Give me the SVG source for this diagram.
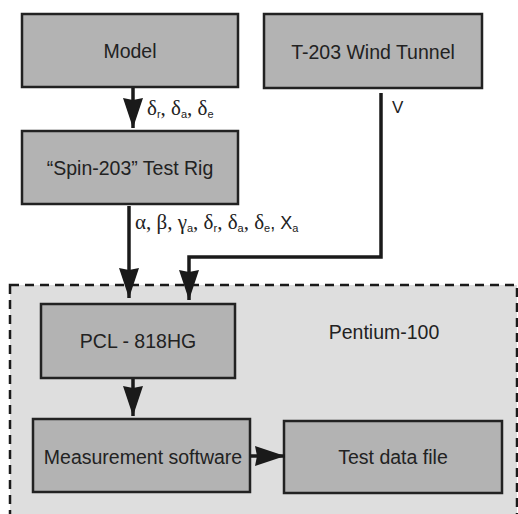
<svg xmlns="http://www.w3.org/2000/svg" width="518" height="514" viewBox="0 0 518 514">
<style>
.box{fill:#b3b3b3;stroke:#222;stroke-width:2.5}
.t{font-family:"Liberation Sans",Arial,sans-serif;font-size:19.5px;fill:#222;text-anchor:middle}
.g{font-family:"Liberation Serif","Times New Roman",serif;font-size:21px;fill:#222}
.s{font-family:"Liberation Sans",Arial,sans-serif;font-size:11px}
.c{fill:none;stroke:#1a1a1a;stroke-width:3.5}
</style>
<defs>
<marker id="a" viewBox="0 0 30 20" refX="30" refY="10" markerWidth="30" markerHeight="20" markerUnits="userSpaceOnUse" orient="auto">
<path d="M0,0 L30,10 L0,20 L2,10 Z" fill="#1a1a1a"/>
</marker>
</defs>
<g id="pentium">
<rect x="10" y="285" width="507" height="240" fill="#dedede" stroke="#1a1a1a" stroke-width="2.5" stroke-dasharray="9,6"/>
<text class="t" x="384" y="339">Pentium-100</text>
</g>
<g id="model">
<rect class="box" x="22" y="14" width="216" height="73"/>
<text class="t" x="130" y="58">Model</text>
</g>
<g id="spin">
<rect class="box" x="22" y="131" width="216" height="73"/>
<text class="t" x="130" y="175">“Spin-203” Test Rig</text>
</g>
<g id="tunnel">
<rect class="box" x="264" y="14" width="218" height="74"/>
<text class="t" x="373" y="59">T-203 Wind Tunnel</text>
</g>
<g id="pcl">
<rect class="box" x="41" y="304" width="194" height="74"/>
<text class="t" x="138" y="348">PCL - 818HG</text>
</g>
<g id="measure">
<rect class="box" x="33" y="419" width="217" height="73"/>
<text class="t" x="143" y="464">Measurement software</text>
</g>
<g id="testdata">
<rect class="box" x="284" y="421" width="218" height="72"/>
<text class="t" x="393" y="464">Test data file</text>
</g>
<g id="connectors">
<path class="c" d="M133,88 V128" marker-end="url(#a)"/>
<path class="c" d="M129,206 V298" marker-end="url(#a)"/>
<path class="c" d="M381,93 V257 H189 V300" marker-end="url(#a)"/>
<path class="c" d="M133,379 V416" marker-end="url(#a)"/>
<path class="c" d="M250,456 H285" marker-end="url(#a)"/>
<text class="g" x="147" y="115">δ<tspan class="s" dy="3">r</tspan><tspan dy="-3">, δ</tspan><tspan class="s" dy="3">a</tspan><tspan dy="-3">, δ</tspan><tspan class="s" dy="3">e</tspan></text>
<text class="g" x="135" y="229">α, β, γ<tspan class="s" dy="3">a</tspan><tspan dy="-3">, δ</tspan><tspan class="s" dy="3">r</tspan><tspan dy="-3">, δ</tspan><tspan class="s" dy="3">a</tspan><tspan dy="-3">, δ</tspan><tspan class="s" dy="3">e</tspan><tspan dy="-3" style="font-family:'Liberation Sans',Arial,sans-serif;font-size:18px">, X</tspan><tspan class="s" dy="3">a</tspan></text>
<text x="392" y="113" style="font-family:'Liberation Sans',Arial,sans-serif;font-size:17px;fill:#222">V</text>
</g>
</svg>
